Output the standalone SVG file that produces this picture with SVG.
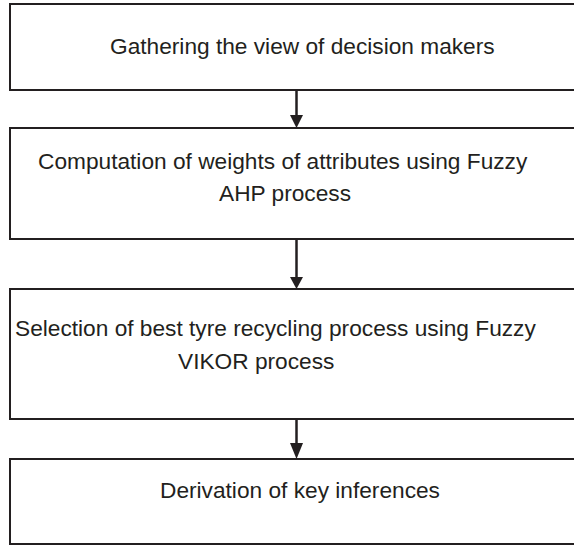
<svg xmlns="http://www.w3.org/2000/svg" width="574" height="546" viewBox="0 0 574 546">
  <style>
    .box { fill: #ffffff; stroke: #231f20; stroke-width: 2; }
    .label { font-family: "Liberation Sans", Arial, sans-serif; font-size: 22.7px; fill: #231f20; }
    .link { stroke: #231f20; stroke-width: 2.5; fill: none; }
    .head { fill: #231f20; }
  </style>
  <rect width="574" height="546" fill="#ffffff"/>

  <g id="node-gathering">
    <rect class="box" x="10" y="4" width="580" height="86"/>
    <text class="label" x="110" y="54">Gathering the view of decision makers</text>
  </g>

  <g id="node-fuzzy-ahp">
    <rect class="box" x="10" y="128" width="580" height="111"/>
    <text class="label" x="38" y="169">Computation of weights of attributes using Fuzzy</text>
    <text class="label" x="219" y="201">AHP process</text>
  </g>

  <g id="node-fuzzy-vikor">
    <rect class="box" x="10" y="289" width="580" height="130"/>
    <text class="label" x="15" y="336">Selection of best tyre recycling process using Fuzzy</text>
    <text class="label" x="178" y="369">VIKOR process</text>
  </g>

  <g id="node-inferences">
    <rect class="box" x="10" y="459" width="580" height="85"/>
    <text class="label" x="160" y="498">Derivation of key inferences</text>
  </g>

  <g id="connectors">
    <line class="link" x1="296.5" y1="90" x2="296.5" y2="116"/>
    <polygon class="head" points="290,115 303,115 296.5,128"/>
    <line class="link" x1="296.5" y1="239" x2="296.5" y2="278"/>
    <polygon class="head" points="290,277 303,277 296.5,289"/>
    <line class="link" x1="296.5" y1="419" x2="296.5" y2="444"/>
    <polygon class="head" points="290,443 303,443 296.5,459"/>
  </g>
</svg>
